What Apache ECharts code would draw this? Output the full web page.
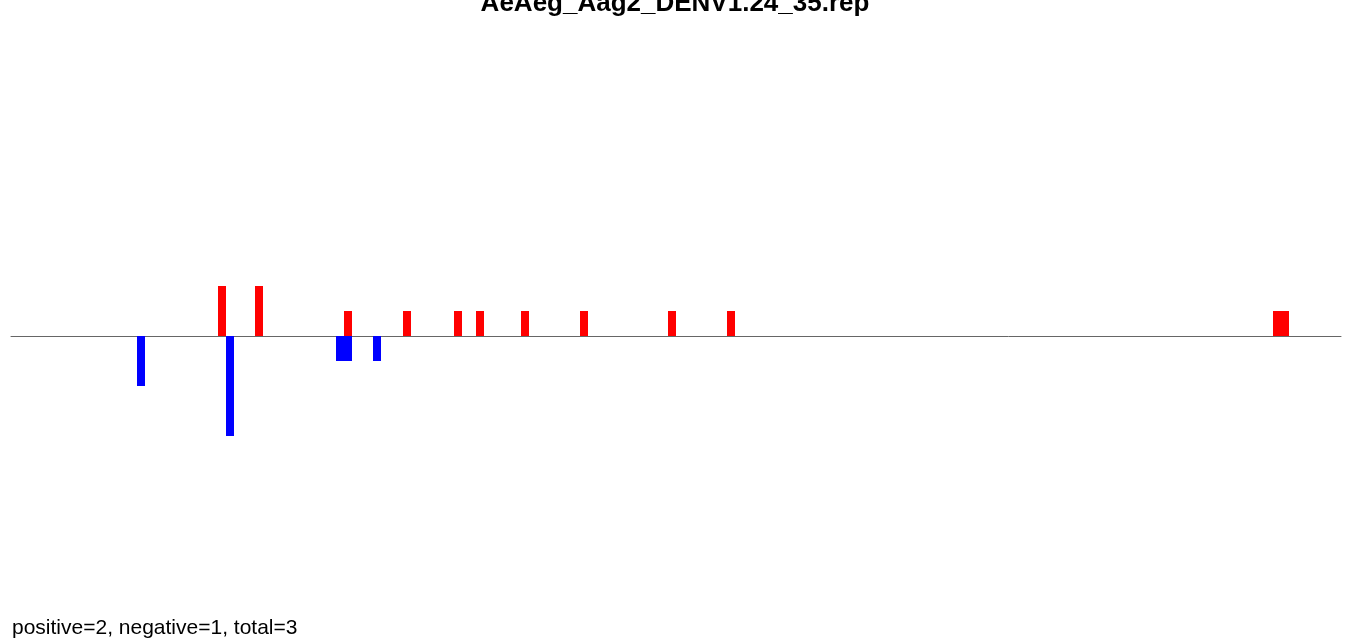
<!DOCTYPE html>
<html>
<head>
<meta charset="utf-8">
<script src="https://cdn.jsdelivr.net/npm/echarts@6/dist/echarts.min.js"></script>
<style>
html,body{margin:0;padding:0;background:#fff;}
#chart{width:1349px;height:641px;}
</style>
</head>
<body>
<div id="chart"></div>
<script>
// Data: bin start position, bin width, value (positive = red, negative = blue)
const titleText = "AeAeg_Aag2_DENV1.24_35.rep";
const footerText = "positive=2, negative=1, total=3";
const binWidth = 8;
const posStarts = [207, 244, 333, 392, 443, 465, 510, 569, 657, 716, 1262, 1270];
const posValues = [2, 2, 1, 1, 1, 1, 1, 1, 1, 1, 1, 1];
const negStarts = [126, 215, 325, 333, 362];
const negValues = [-2, -4, -1, -1, -1];
const xMin = 0, xMax = 1330;
const yMin = -8, yMax = 8;

const chart = echarts.init(document.getElementById('chart'), null, {renderer: 'canvas'});

function barSeries(starts, values, color) {
  return {
    type: 'custom',
    data: starts.map((s, i) => [s, values[i]]),
    renderItem: function (params, api) {
      const x0 = api.value(0), v = api.value(1);
      const p0 = api.coord([x0, 0]);
      const p1 = api.coord([x0 + binWidth, v]);
      return {
        type: 'rect',
        shape: {
          x: Math.min(p0[0], p1[0]),
          y: Math.min(p0[1], p1[1]),
          width: Math.abs(p1[0] - p0[0]),
          height: Math.abs(p1[1] - p0[1])
        },
        style: {fill: color}
      };
    },
    silent: true,
    animation: false
  };
}

chart.setOption({
  animation: false,
  backgroundColor: '#ffffff',
  grid: {left: 11, width: 1330, top: 136, height: 400},
  xAxis: {
    type: 'value', min: xMin, max: xMax,
    axisLine: {show: true, onZero: true, lineStyle: {color: '#666666', width: 1}},
    axisTick: {show: false}, axisLabel: {show: false}, splitLine: {show: false}
  },
  yAxis: {
    type: 'value', min: yMin, max: yMax,
    axisLine: {show: false}, axisTick: {show: false}, axisLabel: {show: false}, splitLine: {show: false}
  },
  graphic: [
    {type: 'text', x: 675, y: 4, style: {text: titleText, font: 'bold 26px "Liberation Sans", Arial, sans-serif', fill: '#000', textAlign: 'center', textVerticalAlign: 'middle'}},
    {type: 'text', x: 12, y: 628, style: {text: footerText, font: '21px "Liberation Sans", Arial, sans-serif', fill: '#000', textAlign: 'left', textVerticalAlign: 'middle'}}
  ],
  series: [
    barSeries(negStarts, negValues, '#0000ff'),
    barSeries(posStarts, posValues, '#ff0000')
  ]
});
</script>
</body>
</html>
